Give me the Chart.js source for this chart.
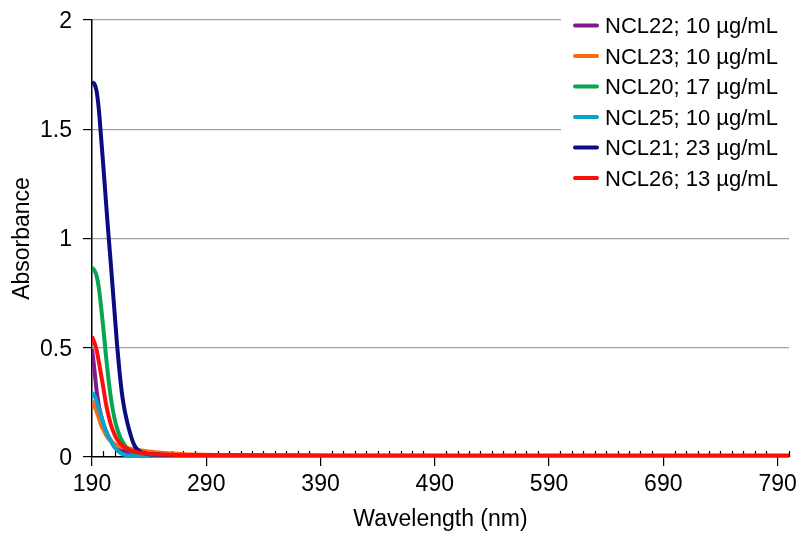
<!DOCTYPE html>
<html>
<head>
<meta charset="utf-8">
<script src="https://cdn.jsdelivr.net/npm/chart.js@4"></script>
<style>
  html, body { margin: 0; padding: 0; background: #fff; }
  #wrap { width: 804px; height: 533px; }
</style>
</head>
<body>
<div id="wrap"><canvas id="c" width="804" height="533"></canvas></div>
<script>
// ---- data ----
const wavelengths = [190,192,194,196,198,200,202,204,206,208,210,212,214,216,218,220,222,224,226,228,230,233,236,240,245,250,260,270,280,300,350,400,450,500,550,600,650,700,750,800];

const seriesLabels = ['NCL22; 10 µg/mL','NCL23; 10 µg/mL','NCL20; 17 µg/mL','NCL25; 10 µg/mL','NCL21; 23 µg/mL','NCL26; 13 µg/mL'];
const seriesColors = ['#7e1a8c','#ff6a10','#06a550','#05a4cf','#0b0b82','#ff0d0d'];

const ncl22 = [0.494,0.405,0.305,0.235,0.19,0.152,0.122,0.098,0.08,0.066,0.055,0.046,0.039,0.033,0.028,0.024,0.021,0.018,0.016,0.014,0.012,0.011,0.01,0.009,0.008,0.008,0.007,0.007,0.006,0.006,0.005,0.005,0.005,0.005,0.005,0.005,0.005,0.005,0.005,0.005];
const ncl23 = [0.257,0.235,0.208,0.178,0.145,0.125,0.103,0.087,0.075,0.065,0.058,0.053,0.049,0.046,0.044,0.042,0.04,0.038,0.036,0.034,0.032,0.03,0.028,0.025,0.022,0.02,0.016,0.013,0.011,0.009,0.007,0.006,0.006,0.005,0.005,0.005,0.005,0.005,0.005,0.005];
const ncl20 = [0.867,0.855,0.83,0.775,0.685,0.585,0.475,0.375,0.29,0.222,0.17,0.13,0.1,0.077,0.059,0.045,0.034,0.026,0.021,0.017,0.014,0.012,0.01,0.009,0.008,0.008,0.007,0.007,0.006,0.006,0.005,0.005,0.005,0.005,0.005,0.005,0.005,0.005,0.005,0.005];
const ncl25 = [0.295,0.282,0.255,0.222,0.186,0.152,0.122,0.097,0.077,0.058,0.043,0.031,0.022,0.015,0.011,0.008,0.006,0.005,0.004,0.003,0.003,0.003,0.002,0.002,0.002,0.002,0.002,0.002,0.002,0.002,0.002,0.002,0.002,0.002,0.002,0.002,0.002,0.002,0.002,0.002];
const ncl21 = [1.715,1.708,1.675,1.59,1.46,1.325,1.185,1.045,0.915,0.78,0.645,0.51,0.395,0.3,0.23,0.178,0.135,0.098,0.066,0.045,0.033,0.022,0.017,0.013,0.011,0.01,0.009,0.008,0.007,0.006,0.005,0.005,0.005,0.005,0.005,0.005,0.005,0.005,0.005,0.005];
const ncl26 = [0.551,0.525,0.49,0.435,0.375,0.315,0.25,0.2,0.158,0.125,0.1,0.08,0.066,0.055,0.047,0.04,0.035,0.03,0.027,0.024,0.021,0.018,0.016,0.014,0.012,0.011,0.01,0.009,0.009,0.008,0.008,0.007,0.007,0.007,0.007,0.007,0.007,0.007,0.007,0.007];

const seriesValues = [ncl22, ncl23, ncl20, ncl25, ncl21, ncl26];
const drawOrder = [5, 4, 3, 2, 1, 0]; // lower = drawn on top

const xTickLabels = [190,290,390,490,590,690,790];
const yTickLabels = ['0','0.5','1','1.5','2'];

const FONT = 'Liberation Sans, Arial, Helvetica, sans-serif';

// ---- plugins ----
const minorTicks = {
  id: 'minorTicks',
  beforeDatasetsDraw(chart) {
    const xs = chart.scales.x;
    const ctx = chart.ctx;
    const yAxis = chart.chartArea.bottom;
    ctx.save();
    ctx.strokeStyle = '#000';
    ctx.lineWidth = 1.2;
    xs.ticks.forEach(t => {
      if (xTickLabels.includes(t.value)) return;
      const px = Math.round(xs.getPixelForValue(t.value)) + 0.5;
      ctx.beginPath();
      ctx.moveTo(px, yAxis);
      ctx.lineTo(px, yAxis - 6);
      ctx.stroke();
    });
    ctx.restore();
  }
};

const boxLegend = {
  id: 'boxLegend',
  afterDatasetsDraw(chart) {
    const ctx = chart.ctx;
    ctx.save();
    ctx.fillStyle = '#fff';
    ctx.fillRect(561, 8, 243, 190);
    ctx.font = '22px ' + FONT;
    ctx.textAlign = 'left';
    ctx.textBaseline = 'middle';
    chart.data.datasets.forEach((ds, i) => {
      const y = 27 + i * 30.5;
      ctx.strokeStyle = ds.borderColor;
      ctx.lineWidth = 4;
      ctx.lineCap = 'round';
      ctx.beginPath();
      ctx.moveTo(575, y - 1.5);
      ctx.lineTo(597, y - 1.5);
      ctx.stroke();
      ctx.fillStyle = '#000';
      ctx.fillText(ds.label, 605, y);
    });
    ctx.restore();
  }
};

// ---- chart ----
const datasets = seriesLabels.map((lab, i) => ({
  label: lab,
  data: wavelengths.map((w, j) => ({ x: w, y: seriesValues[i][j] })),
  borderColor: seriesColors[i],
  backgroundColor: seriesColors[i],
  borderWidth: 4,
  pointRadius: 0,
  fill: false,
  cubicInterpolationMode: 'monotone',
  order: drawOrder[i]
}));

new Chart(document.getElementById('c'), {
  type: 'line',
  data: { datasets },
  plugins: [minorTicks, boxLegend],
  options: {
    responsive: false,
    animation: false,
    devicePixelRatio: 1,
    layout: { padding: { left: 0, top: 20, right: 15, bottom: 0 } },
    plugins: { legend: { display: false }, tooltip: { enabled: false } },
    scales: {
      x: {
        type: 'linear',
        min: 190,
        max: 800,
        afterFit(s) { s.height = 76; },
        ticks: {
          stepSize: 10,
          autoSkip: false,
          maxRotation: 0,
          minRotation: 0,
          padding: 5,
          color: '#000',
          font: { size: 23, family: FONT },
          callback: v => xTickLabels.includes(v) ? String(v) : ''
        },
        grid: {
          drawOnChartArea: false,
          drawTicks: true,
          tickLength: 9,
          lineWidth: 1.2,
          color: c => (c.tick && xTickLabels.includes(c.tick.value)) ? '#000' : 'rgba(0,0,0,0)'
        },
        border: { display: true, color: '#000', width: 1.5 },
        title: {
          display: true,
          text: 'Wavelength (nm)',
          color: '#000',
          font: { size: 23, family: FONT },
          padding: { top: 0, bottom: 0 }
        }
      },
      y: {
        min: 0,
        max: 2,
        afterFit(s) { s.width = 92; },
        ticks: {
          stepSize: 0.5,
          padding: 11,
          labelOffset: 1.5,
          color: '#000',
          font: { size: 23, family: FONT, lineHeight: 0.4 },
          callback: (v, i) => yTickLabels[i]
        },
        grid: {
          drawTicks: true,
          tickLength: 9,
          lineWidth: 1.2,
          color: c => (c.tick && c.tick.value === 0) ? 'rgba(0,0,0,0)' : '#a0a0a0',
          tickColor: '#000'
        },
        border: { display: true, color: '#000', width: 1.5 },
        title: {
          display: true,
          text: 'Absorbance',
          color: '#000',
          font: { size: 23, family: FONT },
          padding: { top: 9, bottom: 0 }
        }
      }
    }
  }
});
</script>
</body>
</html>
